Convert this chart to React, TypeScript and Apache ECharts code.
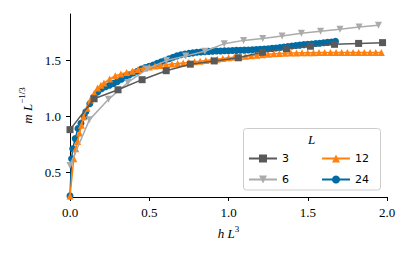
import React, { useEffect, useRef } from "react";
import * as echarts from "echarts";

const xTicks = [0, 0.5, 1.0, 1.5, 2.0];
const yTicks = [0.5, 1.0, 1.5];

const l3X = [0, 0.152, 0.303, 0.455, 0.607, 0.759, 0.91, 1.062, 1.214, 1.366, 1.517, 1.669, 1.821, 1.972];
const l3Y = [0.88, 1.155, 1.235, 1.325, 1.405, 1.463, 1.492, 1.52, 1.569, 1.601, 1.623, 1.64, 1.648, 1.655];

const l6X = [0, 0.122, 0.243, 0.365, 0.487, 0.608, 0.73, 0.851, 0.973, 1.095, 1.216, 1.338, 1.46, 1.581, 1.703, 1.824, 1.946];
const l6Y = [0.56, 0.967, 1.15, 1.3, 1.42, 1.495, 1.537, 1.578, 1.646, 1.675, 1.692, 1.714, 1.738, 1.756, 1.774, 1.794, 1.809];

const l12X = [0, 0.024, 0.036, 0.048, 0.06, 0.072, 0.086, 0.107, 0.128, 0.153, 0.174, 0.195, 0.214, 0.25, 0.286, 0.321, 0.357, 0.393, 0.429, 0.464, 0.5, 0.536, 0.571, 0.607, 0.643, 0.679, 0.714, 0.75, 0.786, 0.821, 0.857, 0.893, 0.929, 0.964, 1.0, 1.036, 1.071, 1.107, 1.143, 1.179, 1.214, 1.25, 1.286, 1.321, 1.357, 1.393, 1.429, 1.464, 1.5, 1.536, 1.571, 1.607, 1.643, 1.679, 1.714, 1.75, 1.786, 1.821, 1.857, 1.893, 1.929, 1.964];
const l12Y = [0.29, 0.62, 0.71, 0.775, 0.85, 0.92, 0.995, 1.07, 1.145, 1.205, 1.25, 1.275, 1.295, 1.33, 1.36, 1.375, 1.39, 1.4, 1.415, 1.43, 1.438, 1.446, 1.452, 1.459, 1.464, 1.469, 1.474, 1.478, 1.484, 1.49, 1.496, 1.502, 1.508, 1.514, 1.52, 1.525, 1.53, 1.534, 1.538, 1.542, 1.547, 1.551, 1.555, 1.558, 1.56, 1.562, 1.563, 1.564, 1.565, 1.565, 1.566, 1.566, 1.566, 1.566, 1.567, 1.567, 1.567, 1.567, 1.567, 1.568, 1.568, 1.568];

const l24X = [0, 0.01, 0.017, 0.033, 0.05, 0.069, 0.09, 0.1, 0.125, 0.15, 0.175, 0.2, 0.225, 0.25, 0.275, 0.3, 0.325, 0.35, 0.375, 0.4, 0.425, 0.45, 0.475, 0.5, 0.525, 0.55, 0.575, 0.6, 0.625, 0.65, 0.675, 0.7, 0.725, 0.75, 0.775, 0.8, 0.825, 0.85, 0.875, 0.9, 0.925, 0.95, 0.975, 1.0, 1.025, 1.05, 1.075, 1.1, 1.125, 1.15, 1.175, 1.2, 1.225, 1.25, 1.275, 1.3, 1.325, 1.35, 1.375, 1.4, 1.425, 1.45, 1.475, 1.5, 1.525, 1.55, 1.575, 1.6, 1.625, 1.65, 1.675];
const l24Y = [0.29, 0.62, 0.71, 0.8, 0.89, 0.937, 0.996, 1.04, 1.11, 1.17, 1.215, 1.245, 1.262, 1.276, 1.292, 1.31, 1.33, 1.35, 1.368, 1.385, 1.4, 1.42, 1.433, 1.445, 1.456, 1.47, 1.484, 1.498, 1.512, 1.524, 1.537, 1.547, 1.553, 1.559, 1.564, 1.569, 1.572, 1.575, 1.577, 1.579, 1.58, 1.581, 1.582, 1.583, 1.585, 1.586, 1.587, 1.588, 1.59, 1.592, 1.594, 1.596, 1.598, 1.601, 1.604, 1.607, 1.611, 1.615, 1.62, 1.625, 1.629, 1.633, 1.637, 1.64, 1.643, 1.647, 1.65, 1.654, 1.657, 1.661, 1.666];

const colors = ["#595959", "#ABABAB", "#FF800E", "#006BA4"];

const zip = (xs: number[], ys: number[]) => xs.map((x, i) => [x, ys[i]]);

const SERIF = "Liberation Serif";
const SANS = "DejaVu Sans";

export default function App() {
  const ref = useRef<HTMLDivElement>(null);
  useEffect(() => {
    if (!ref.current) return;
    const chart = echarts.init(ref.current, null, { renderer: "svg" });
    const tickLabel = {
      fontFamily: SERIF,
      fontSize: 13,
      color: "#000",
    };
    const nameRich = {
      i: { fontFamily: SERIF, fontStyle: "italic", fontSize: 13, color: "#000", verticalAlign: "bottom", lineHeight: 16 },
      s: { fontFamily: SERIF, fontSize: 9, color: "#000", verticalAlign: "top", lineHeight: 16 },
    };
    chart.setOption({
      animation: false,
      backgroundColor: "#fff",
      grid: { left: 70, right: 24, top: 14, bottom: 57 },
      xAxis: {
        type: "value",
        min: 0,
        max: 2.0,
        interval: 0.5,
        axisLine: { lineStyle: { color: "#000", width: 1 } },
        axisTick: { show: true, length: 4, lineStyle: { color: "#000" }, customValues: xTicks },
        axisLabel: { ...tickLabel, margin: 9, customValues: xTicks, formatter: (v: number) => v.toFixed(1) },
        splitLine: { show: false },
        name: "{i|h L}{s|3}",
        nameLocation: "middle",
        nameGap: 27,
        nameTextStyle: { fontFamily: SERIF, rich: nameRich },
      },
      yAxis: {
        type: "value",
        min: 0.28,
        max: 1.91,
        axisLine: { show: true, lineStyle: { color: "#000", width: 1 } },
        axisTick: { show: true, length: 4, lineStyle: { color: "#000" }, customValues: yTicks },
        axisLabel: { ...tickLabel, margin: 9, customValues: yTicks, formatter: (v: number) => v.toFixed(1) },
        splitLine: { show: false },
        name: "{i|m L}{s|−1/3}",
        nameLocation: "middle",
        nameGap: 33,
        nameTextStyle: { fontFamily: SERIF, rich: nameRich },
      },
      legend: [
        {
          data: ["3", "6"],
          orient: "vertical",
          left: 248,
          top: 153,
          padding: 0,
          itemGap: 10,
          itemWidth: 28,
          itemHeight: 10,
          z: 20,
          textStyle: { fontFamily: SANS, fontSize: 11, color: "#000" },
        },
        {
          data: ["12", "24"],
          orient: "vertical",
          left: 321,
          top: 153,
          padding: 0,
          itemGap: 10,
          itemWidth: 28,
          itemHeight: 10,
          z: 20,
          textStyle: { fontFamily: SANS, fontSize: 11, color: "#000" },
        },
      ],
      graphic: [
        {
          type: "rect",
          z: 15,
          shape: { x: 243.5, y: 128.5, width: 137, height: 61.5, r: 3 },
          style: { fill: "rgba(255,255,255,0.85)", stroke: "#cccccc", lineWidth: 1 },
        },
        {
          type: "text",
          z: 16,
          x: 311.7,
          y: 139,
          style: { text: "L", fontFamily: SERIF, fontStyle: "italic", fontSize: 13, fill: "#000", align: "center", verticalAlign: "middle" },
        },
      ],
      series: [
        {
          name: "24",
          type: "line",
          data: zip(l24X, l24Y),
          symbol: "circle",
          symbolSize: 7,
          color: colors[3],
          lineStyle: { width: 1.5 },
          z: 2,
        },
        {
          name: "12",
          type: "line",
          data: zip(l12X, l12Y),
          symbol: "triangle",
          symbolSize: 7,
          color: colors[2],
          lineStyle: { width: 1.5 },
          z: 3,
        },
        {
          name: "6",
          type: "line",
          data: zip(l6X, l6Y),
          symbol: "triangle",
          symbolRotate: 180,
          symbolSize: 7,
          color: colors[1],
          lineStyle: { width: 1.5 },
          z: 4,
        },
        {
          name: "3",
          type: "line",
          data: zip(l3X, l3Y),
          symbol: "rect",
          symbolSize: 7,
          color: colors[0],
          lineStyle: { width: 1.5 },
          z: 5,
        },
      ],
    });
    return () => chart.dispose();
  }, []);
  return <div ref={ref} style={{ width: 411, height: 254, position: "absolute", left: 0, top: 0 }} />;
}
